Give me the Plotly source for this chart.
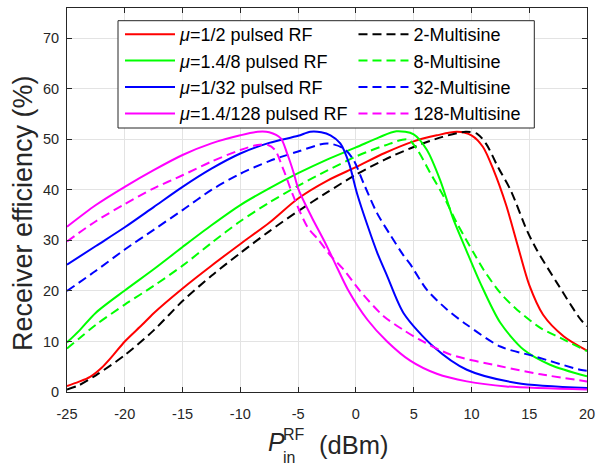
import plotly.graph_objects as go

# ---- data ----
red_x = [-25, -24, -23, -22, -21, -20, -18.5, -17.5, -15, -12.5, -10, -7.5, -5, -2.5, 0, 2.5, 5, 7, 8.75, 10, 11, 11.9, 13, 14, 15, 16.2, 18, 20]
red_y = [1.2, 2.0, 3.0, 4.8, 7.3, 10.0, 13.3, 15.6, 20.5, 25, 29.3, 33.5, 38.3, 41.8, 44.5, 47.3, 49.6, 50.8, 51.5, 50.8, 48.5, 44, 37, 29, 21.2, 15.3, 11, 8.2]

black_x = [-25, -24, -22.5, -20, -17.5, -15, -12.5, -10, -7.5, -5, -2.5, 0, 2.5, 5, 7.5, 9.5, 10.5, 11.3, 12.3, 13.4, 14.8, 15.66, 17.4, 19.4, 20]
black_y = [0.5, 1.3, 3.3, 7.3, 12.2, 18.0, 23.0, 27.5, 31.8, 35.8, 39.5, 43, 46, 48.5, 50.5, 51.5, 51.1, 49, 44.5, 39.9, 32, 28.1, 21.6, 14.5, 13]

green_x = [-25, -24, -22.5, -20, -17.5, -15, -12.5, -10, -7.5, -5, -2.5, 0, 2, 3.5, 5, 6.15, 7.3, 8.45, 9.6, 10.76, 12.5, 14.5, 16.8, 20]
green_y = [9.8, 12.0, 15.7, 20.1, 24.3, 28.7, 33.0, 37.0, 40.3, 43.3, 46, 48.4, 50.4, 51.6, 51, 47.9, 41.9, 34.1, 27.8, 21.6, 13.7, 8.4, 5.4, 3.1]

green_d_x = [-25, -24, -22.5, -20, -17.5, -15, -12.5, -10, -7.5, -5, -2.5, 0, 2.5, 4.5, 5.3, 6.45, 7.6, 8.75, 10.2, 11.05, 12.5, 13.94, 15.96, 17.7, 20]
green_d_y = [8.6, 10.5, 13.3, 17.3, 21.0, 25, 29.5, 33.8, 37.5, 40.8, 43.8, 46.6, 48.8, 50, 48, 43.3, 38.7, 33.4, 27.5, 24.2, 19.6, 16.3, 12.7, 10.7, 8.1]

blue_x = [-25, -22.5, -20, -17.5, -15, -12.5, -10, -7.5, -5, -3.95, -3, -2.2, -1.35, -0.6, 0.1, 1.0, 1.86, 2.7, 4.13, 6.7, 9.6, 13.9, 20]
blue_y = [25.2, 28.9, 32.6, 36.6, 40.6, 44.2, 47.2, 49.3, 50.7, 51.5, 51.4, 50.8, 49.2, 45.3, 39.3, 33.0, 27.5, 23, 15.6, 9.0, 4.4, 1.8, 0.8]

blue_d_x = [-25, -22.5, -20, -17.5, -15, -12.5, -10, -7.5, -5, -2.5, -1.06, -0.2, 0.67, 1.83, 3, 4.13, 4.7, 6.15, 7.9, 9.6, 12.5, 15.4, 19.4, 20]
blue_d_y = [20, 24.0, 28.2, 32.1, 36, 40, 43.2, 45.7, 47.6, 49.2, 48.2, 45.9, 41.3, 35.4, 31.0, 27, 25.3, 20.2, 16.3, 13.3, 9, 7.1, 4.4, 4.2]

mag_x = [-25, -22.5, -20, -17.5, -15, -12.5, -10, -8.5, -7.5, -6.5, -5.95, -5.4, -4.95, -3.8, -2.65, -1.6, -0.7, 1, 2.7, 4.7, 7, 9.6, 13, 20]
mag_y = [32.7, 37.0, 40.6, 43.9, 46.9, 49.2, 50.8, 51.5, 51.4, 50.2, 47.2, 43.5, 40, 34.5, 29.5, 24.5, 20.3, 14.3, 10, 6.2, 3.6, 2.1, 1.1, 0.5]

mag_d_x = [-25, -22.5, -20, -17.5, -15, -12.5, -10, -8.5, -7.6, -7, -6.25, -5.4, -4.2, -3.2, -2.2, -1.05, 0.36, 2.4, 4.1, 5.4, 8.2, 12.5, 16, 20]
mag_d_y = [29.8, 33.8, 37.2, 40.3, 42.9, 45.6, 47.9, 48.9, 48.9, 47.9, 43.9, 38.7, 32.7, 30, 27, 24.2, 20, 15, 12.3, 10.5, 7.4, 5.1, 3.5, 2.1]

x_ticks = [-25, -20, -15, -10, -5, 0, 5, 10, 15, 20]
y_ticks = [0, 10, 20, 30, 40, 50, 60, 70]

names = ["<i>μ</i>=1/2 pulsed RF", "2-Multisine",
         "<i>μ</i>=1.4/8 pulsed RF", "8-Multisine",
         "<i>μ</i>=1/32 pulsed RF", "32-Multisine",
         "<i>μ</i>=1.4/128 pulsed RF", "128-Multisine"]

series = [
    (red_x, red_y, "#ff0000", "solid"),
    (black_x, black_y, "#000000", "dash"),
    (green_x, green_y, "#00ff00", "solid"),
    (green_d_x, green_d_y, "#00ff00", "dash"),
    (blue_x, blue_y, "#0000ff", "solid"),
    (blue_d_x, blue_d_y, "#0000ff", "dash"),
    (mag_x, mag_y, "#ff00ff", "solid"),
    (mag_d_x, mag_d_y, "#ff00ff", "dash"),
]

FONT = "Liberation Sans, Arial, Helvetica, sans-serif"
AX = "#262626"

fig = go.Figure()
for (xs, ys, col, dash), nm in zip(series, names):
    fig.add_trace(go.Scatter(
        x=xs, y=ys, mode="lines", name=nm,
        line=dict(color=col, width=2, dash=("9px,5px" if dash == "dash" else "solid"),
                  shape="spline", smoothing=0.8),
    ))

axis_common = dict(
    showgrid=True, gridcolor="#e3e3e3", gridwidth=1,
    zeroline=False, showline=True, linecolor=AX, linewidth=1,
    mirror="ticks", ticks="inside", ticklen=5, tickcolor=AX,
    tickfont=dict(family=FONT, size=14.5, color=AX),
)

fig.update_xaxes(range=[-25, 20], tickvals=x_ticks, ticktext=[str(v) for v in x_ticks],
                 ticklabelstandoff=9, **axis_common)
fig.update_yaxes(range=[0, 76], tickvals=y_ticks, ticktext=[str(v) for v in y_ticks],
                 ticklabelstandoff=4, **axis_common)

L, R, T, B = 67, 16, 8, 76
W, H = 603, 468
pw, ph = W - L - R, H - T - B

def px_x(p):
    return (p - L) / pw

def px_y(p):
    return (H - B - p) / ph

annos = [
    dict(text="Receiver efficiency (%)", textangle=-90, x=px_x(23), y=px_y(213),
         font=dict(family=FONT, size=27, color=AX)),
    dict(text="<i>P</i>", x=px_x(266), y=px_y(442), xanchor="left",
         font=dict(family=FONT, size=25, color=AX)),
    dict(text="RF", x=px_x(281), y=px_y(434), xanchor="left",
         font=dict(family=FONT, size=16, color=AX)),
    dict(text="in", x=px_x(281), y=px_y(457), xanchor="left",
         font=dict(family=FONT, size=16, color=AX)),
    dict(text="(dBm)", x=px_x(317), y=px_y(445), xanchor="left",
         font=dict(family=FONT, size=25.5, color=AX)),
]
for a in annos:
    a.update(xref="paper", yref="paper", showarrow=False, yanchor="middle")
    a.setdefault("xanchor", "center")

# legend frame (white box behind the legend entries)
legend_box = dict(type="rect", xref="paper", yref="paper",
                  x0=px_x(118), x1=px_x(534.3), y0=px_y(128), y1=px_y(20.7),
                  line=dict(color=AX, width=1), fillcolor="white", layer="above")

fig.update_layout(
    width=W, height=H,
    margin=dict(l=L, r=R, t=T, b=B),
    plot_bgcolor="white", paper_bgcolor="white",
    annotations=annos,
    shapes=[legend_box],
    showlegend=True,
    legend=dict(
        orientation="h", x=px_x(323), y=px_y(16), xanchor="center", yanchor="top",
        bgcolor="rgba(0,0,0,0)", borderwidth=0,
        font=dict(family=FONT, size=18, color="#000000"),
        itemwidth=50,
    ),
)

fig.write_html("out.html", config={"displayModeBar": False},
               post_script="document.body.style.margin='0';")
